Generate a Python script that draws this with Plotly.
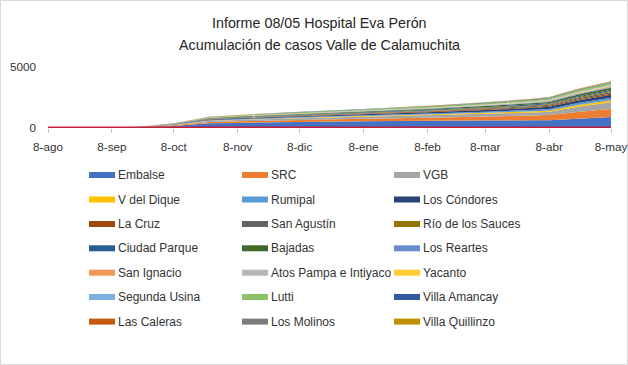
import plotly.graph_objects as go

dates = ["2020-08-08", "2020-09-08", "2020-09-22", "2020-10-08", "2020-10-25", "2020-11-08",
         "2020-12-08", "2021-01-08", "2021-02-08", "2021-03-08", "2021-04-01", "2021-04-08",
         "2021-04-22", "2021-05-08"]

embalse = [0, 10, 50, 170, 380, 420, 500, 560, 590, 610, 630, 640, 760, 900]
src = [0, 5, 20, 50, 110, 130, 160, 200, 260, 330, 390, 420, 560, 680]
vgb = [0, 2, 10, 30, 80, 100, 130, 160, 190, 220, 260, 280, 420, 530]
v_del_dique = [0, 1, 3, 10, 30, 35, 45, 55, 65, 80, 95, 100, 140, 170]
rumipal = [0, 1, 4, 12, 40, 50, 60, 70, 85, 100, 120, 125, 160, 190]
los_condores = [0, 1, 5, 15, 45, 55, 70, 80, 100, 130, 160, 170, 210, 250]
la_cruz = [0, 1, 3, 10, 25, 30, 40, 45, 55, 65, 75, 80, 95, 110]
san_agustin = [0, 1, 3, 8, 22, 28, 38, 45, 55, 65, 80, 85, 100, 120]
rio_sauces = [0, 1, 2, 6, 15, 20, 25, 30, 40, 50, 60, 62, 75, 90]
ciudad_parque = [0, 1, 3, 8, 20, 25, 30, 40, 50, 60, 70, 72, 88, 100]
bajadas = [0, 2, 6, 15, 35, 42, 55, 65, 75, 85, 100, 105, 130, 150]
los_reartes = [0, 1, 2, 5, 12, 15, 20, 25, 30, 40, 45, 48, 60, 70]
san_ignacio = [0, 0, 1, 3, 8, 10, 14, 18, 22, 28, 35, 38, 47, 55]
atos_pampa = [0, 0, 1, 2, 5, 7, 10, 12, 15, 20, 25, 27, 34, 40]
yacanto = [0, 0, 1, 3, 8, 10, 14, 17, 20, 25, 30, 32, 39, 45]
segunda_usina = [0, 0, 1, 2, 5, 6, 8, 10, 13, 17, 22, 24, 30, 35]
lutti = [0, 2, 10, 25, 50, 60, 75, 85, 100, 110, 125, 130, 150, 170]
villa_amancay = [0, 1, 2, 4, 8, 10, 14, 17, 20, 25, 30, 32, 36, 40]
las_caleras = [0, 0, 1, 2, 5, 6, 9, 12, 15, 18, 22, 23, 27, 30]
los_molinos = [0, 0, 1, 2, 4, 5, 7, 9, 11, 14, 17, 18, 22, 25]
villa_quillinzo = [0, 0, 1, 2, 5, 6, 8, 10, 12, 16, 20, 22, 26, 30]
zero_series = [0] * len(dates)

names = ["Embalse", "SRC", "VGB", "V del Dique", "Rumipal", "Los Cóndores", "La Cruz",
         "San Agustín", "Río de los Sauces", "Ciudad Parque", "Bajadas", "Los Reartes",
         "San Ignacio", "Atos Pampa e Intiyaco", "Yacanto", "Segunda Usina", "Lutti",
         "Villa Amancay", "Las Caleras", "Los Molinos", "Villa Quillinzo"]
series = [embalse, src, vgb, v_del_dique, rumipal, los_condores, la_cruz, san_agustin,
          rio_sauces, ciudad_parque, bajadas, los_reartes, san_ignacio, atos_pampa, yacanto,
          segunda_usina, lutti, villa_amancay, las_caleras, los_molinos, villa_quillinzo]
colors = ["#4472C4", "#ED7D31", "#A5A5A5", "#FFC000", "#5B9BD5", "#264478", "#9E480E",
          "#636363", "#997300", "#255E91", "#43682B", "#698ED0", "#F1975A", "#B7B7B7",
          "#FFCD33", "#7CAFDD", "#8CC168", "#335AA1", "#C55A11", "#7B7B7B", "#BF9000"]

tick_vals = ["2020-08-08", "2020-09-08", "2020-10-08", "2020-11-08", "2020-12-08",
             "2021-01-08", "2021-02-08", "2021-03-08", "2021-04-08", "2021-05-08"]
tick_text = ["8-ago", "8-sep", "8-oct", "8-nov", "8-dic", "8-ene", "8-feb", "8-mar",
             "8-abr", "8-may"]
title_lines = ["Informe 08/05 Hospital Eva Perón", "Acumulación de casos Valle de Calamuchita"]

FONT = "Liberation Sans, Arial, sans-serif"
TXT = "#333333"
W, H = 628, 365
L, R, T, B = 48, 17, 67, 237
PW = W - L - R
PH = H - T - B

fig = go.Figure()
for name, vals, col in zip(names, series, colors):
    fig.add_trace(go.Scatter(x=dates, y=vals, name=name, stackgroup="one", mode="none",
                             fillcolor=col, line=dict(width=0), showlegend=False,
                             hoverinfo="x+y+name"))
fig.add_trace(go.Scatter(x=dates, y=zero_series, mode="lines", showlegend=False,
                         line=dict(color="#C41E3A", width=3), cliponaxis=False))


def px_x(p):
    return (p - L) / PW


def px_y(p):
    return (H - B - p) / PH


shapes = []
annotations = []
col_sw = [89, 242, 394]
row_y = [175, 199.5, 224, 248.3, 272.7, 297, 321.6]
for i, (name, col) in enumerate(zip(names, colors)):
    r, c = divmod(i, 3)
    x0 = col_sw[c]
    yc = row_y[r]
    shapes.append(dict(type="rect", xref="paper", yref="paper",
                       x0=px_x(x0), x1=px_x(x0 + 26), y0=px_y(yc + 3), y1=px_y(yc - 3),
                       fillcolor=col, line=dict(width=0)))
    annotations.append(dict(text=name, xref="paper", yref="paper", x=px_x(x0 + 27),
                            y=px_y(yc), xanchor="left", yanchor="middle", showarrow=False,
                            font=dict(family=FONT, size=12, color=TXT)))

for line, yc in zip(title_lines, [23, 44.5]):
    annotations.append(dict(text=line, xref="paper", yref="paper", x=px_x(319.5),
                            y=px_y(yc), xanchor="center", yanchor="middle", showarrow=False,
                            font=dict(family=FONT, size=14.3, color="#262626")))

shapes.append(dict(type="rect", xref="paper", yref="paper", x0=px_x(0.5), x1=px_x(W - 0.5),
                   y0=px_y(H - 0.5), y1=px_y(0.5), line=dict(color="#D9D9D9", width=1),
                   fillcolor="rgba(0,0,0,0)", layer="below"))

fig.update_layout(
    width=W, height=H,
    margin=dict(l=L, r=R, t=T, b=B, autoexpand=False),
    paper_bgcolor="white", plot_bgcolor="white",
    xaxis=dict(type="date", range=["2020-08-08", "2021-05-08"], tickvals=tick_vals,
               ticktext=tick_text, ticks="outside", ticklen=4, tickcolor="#BFBFBF",
               showgrid=False, showline=False, zeroline=False, ticklabelstandoff=4,
               automargin=False,
               tickfont=dict(family=FONT, size=11.7, color=TXT)),
    yaxis=dict(range=[0, 5000], tickvals=[0, 5000], showgrid=True, gridcolor="#D9D9D9",
               zeroline=False, showline=False, ticks="", ticklabelstandoff=11,
               automargin=False,
               tickfont=dict(family=FONT, size=11.7, color=TXT)),
    shapes=shapes, annotations=annotations, showlegend=False,
)

fig.write_html("out.html", config={"displayModeBar": False},
               post_script="document.body.style.margin='0';")
